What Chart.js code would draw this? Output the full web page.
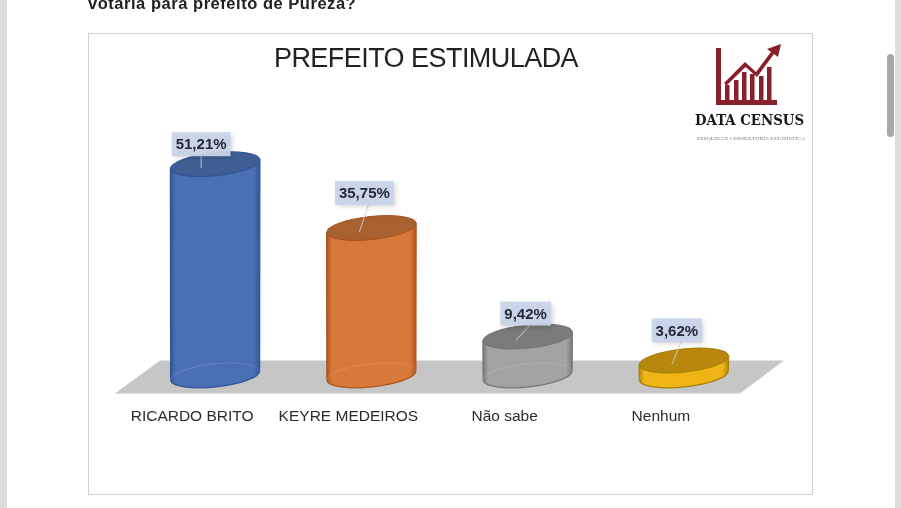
<!DOCTYPE html>
<html lang="pt">
<head>
<meta charset="utf-8">
<title>Prefeito estimulada</title>
<script src="https://cdn.jsdelivr.net/npm/chart.js@4"></script>
<style>
    html, body { margin: 0; padding: 0; background: #fff; overflow: hidden; }
    #page { position: relative; width: 901px; height: 508px; overflow: hidden; filter: blur(0.35px); }
    #chart { position: absolute; left: 0; top: 0; }
    .stripe { position: absolute; top: 0; width: 7px; height: 508px; background: #dcdcdc; }
    #scrollThumb { position: absolute; left: 887px; top: 54px; width: 7px; height: 83px; border-radius: 4px; background: #a8a8a8; }
    #question { position: absolute; left: 88px; top: -6px; font: bold 16.5px/18px "Liberation Sans", sans-serif; color: #222; letter-spacing: .53px; white-space: nowrap; }
    #frame { position: absolute; left: 88px; top: 33px; width: 723px; height: 460px; border: 1px solid #d2d2d2; }
    #logo { position: absolute; left: 680px; top: 30px; }
</style>
</head>
<body>
<div id="page">
    <div class="stripe" style="left:0"></div>
    <div class="stripe" style="left:895px;width:6px"></div>
    <div id="scrollThumb"></div>
    <div id="question">votaria para prefeito de Pureza?</div>
    <div id="frame"></div>
    <canvas id="chart" width="901" height="508"></canvas>
    <svg id="logo" width="135" height="120" viewBox="0 0 135 120">
        <g fill="#8a1f2c">
            <path d="M36 18h5v52h56v5H36z"/>
            <rect x="45" y="55" width="4.500" height="16"/>
            <rect x="54" y="50" width="4.500" height="21"/>
            <rect x="62" y="42" width="4.500" height="29"/>
            <rect x="70" y="44" width="4.500" height="27"/>
            <rect x="79" y="46" width="4.500" height="25"/>
            <rect x="87" y="37" width="4.500" height="34"/>
            <path d="M101 14l-14 5 4 3-15 20-11-10-21 21 2.500 2.500 19-18.500 11.500 10 17-23 4 3z"/>
        </g>
        <text x="15" y="95" font-family="DejaVu Serif, serif" font-weight="bold" font-size="14" fill="#17171a" textLength="109" lengthAdjust="spacingAndGlyphs">DATA CENSUS</text>
        <text x="17" y="109.500" font-family="Liberation Serif, serif" font-size="4.6" fill="#777" textLength="108" lengthAdjust="spacingAndGlyphs">PESQUISA E CONSULTORIA ESTATÍSTICA</text>
    </svg>
</div>

<script>
    // --------- Dados ---------
    const titulo = "PREFEITO ESTIMULADA";
    const candidatos = ["RICARDO BRITO", "KEYRE MEDEIROS", "Não sabe", "Nenhum"];
    const percentuais = [51.21, 35.75, 9.42, 3.62];

    // --------- Cores ---------
    const corpo = ["#4a6fb3", "#d8783a", "#a3a3a3", "#eeb415"];
    const tampa = ["#3f5f94", "#a9622f", "#7b7b7b", "#b8880e"];
    const borda = ["#2f5597", "#a9551f", "#757575", "#a87f08"];
    const offsetRotulo = [[-14, -20], [-7, -35], [-2, -23], [-7, -30]];

    const INCLINA = -6 * Math.PI / 180;
    const RY = 11.5;

    // cilindro desenhado a partir do elemento da barra
    function cilindro(ctx, bar, i) {
        const rx = bar.width / 2;
        const yo = rx * Math.sin(INCLINA);
        const rxx = rx * Math.cos(INCLINA);

        ctx.save();
        ctx.beginPath();
        ctx.ellipse(bar.x, bar.base, rxx, RY, INCLINA, 0, Math.PI);
        ctx.lineTo(bar.x - rxx, bar.y - yo);
        ctx.lineTo(bar.x + rxx, bar.y + yo);
        ctx.closePath();

        const g = ctx.createLinearGradient(bar.x - rx, 0, bar.x + rx, 0);
        g.addColorStop(0, borda[i]);
        g.addColorStop(0.06, corpo[i]);
        g.addColorStop(0.93, corpo[i]);
        g.addColorStop(1, borda[i]);
        ctx.fillStyle = g;
        ctx.fill();
        ctx.strokeStyle = borda[i];
        ctx.lineWidth = 1.2;
        ctx.stroke();

        // elipse de trás, quase invisível
        ctx.beginPath();
        ctx.ellipse(bar.x, bar.base, rxx, RY, INCLINA, Math.PI, 0);
        ctx.strokeStyle = "rgba(255,255,255,.12)";
        ctx.stroke();

        ctx.beginPath();
        ctx.ellipse(bar.x, bar.y, rxx, RY, INCLINA, 0, Math.PI * 2);
        ctx.fillStyle = tampa[i];
        ctx.fill();
        ctx.strokeStyle = borda[i];
        ctx.stroke();
        ctx.restore();
    }

    function rotulo(ctx, bar, i) {
        const txt = percentuais[i].toFixed(2).replace(".", ",") + "%";
        const cx = bar.x + offsetRotulo[i][0];
        const cy = bar.y + offsetRotulo[i][1];

        ctx.save();
        ctx.font = "bold 15px 'Liberation Sans', sans-serif";
        const w = ctx.measureText(txt).width + 8;
        const h = 24;

        ctx.strokeStyle = "rgba(205,205,205,.9)";
        ctx.lineWidth = 1;
        ctx.beginPath();
        ctx.moveTo(cx + (i === 0 ? 0 : 4), cy + h / 2);
        ctx.lineTo(bar.x - (i === 0 ? 14 : 12), bar.y + 4);
        ctx.stroke();

        ctx.shadowColor = "rgba(0,0,0,.18)";
        ctx.shadowBlur = 5;
        ctx.shadowOffsetX = 2;
        ctx.shadowOffsetY = 2;
        ctx.fillStyle = "rgba(200,211,233,.94)";
        ctx.fillRect(cx - w / 2, cy - h / 2, w, h);
        ctx.shadowColor = "transparent";

        ctx.fillStyle = "#262a36";
        ctx.textAlign = "center";
        ctx.textBaseline = "middle";
        ctx.fillText(txt, cx, cy + 1);
        ctx.restore();
    }

    const cena3d = {
        id: "cena3d",
        beforeDatasetsDraw(chart) {
            // piso cinza
            const { ctx, chartArea: a } = chart;
            const y0 = chart.scales.y.getPixelForValue(0);
            ctx.save();
            ctx.fillStyle = "#c6c6c6";
            ctx.beginPath();
            ctx.moveTo(a.left - 22, y0 + 18);
            ctx.lineTo(a.left + 23, y0 - 15);
            ctx.lineTo(a.right + 22, y0 - 15);
            ctx.lineTo(a.right - 22, y0 + 18);
            ctx.closePath();
            ctx.fill();
            ctx.restore();
        },
        beforeDatasetDraw() {
            return false; // a barra plana vira cilindro abaixo
        },
        afterDatasetsDraw(chart) {
            const { ctx } = chart;
            const bars = chart.getDatasetMeta(0).data;
            bars.forEach((bar, i) => cilindro(ctx, bar, i));
            bars.forEach((bar, i) => rotulo(ctx, bar, i));

            ctx.save();
            ctx.font = "27px 'Liberation Sans', sans-serif";
            ctx.letterSpacing = "-0.55px";
            ctx.fillStyle = "#222";
            ctx.textAlign = "center";
            ctx.textBaseline = "middle";
            ctx.fillText(titulo, 426, 60);
            ctx.restore();
        }
    };

    new Chart(document.getElementById("chart"), {
        type: "bar",
        data: {
            labels: candidatos,
            datasets: [{
                label: titulo,
                data: percentuais,
                backgroundColor: corpo,
                barThickness: 90
            }]
        },
        options: {
            responsive: false,
            animation: false,
            devicePixelRatio: 1,
            layout: { padding: { left: 137, right: 139, top: 128, bottom: 50 } },
            plugins: { legend: { display: false }, tooltip: { enabled: false } },
            scales: {
                y: { display: false, min: 0, max: 60 },
                x: {
                    grid: { display: false, drawTicks: false },
                    border: { display: false },
                    ticks: {
                        padding: 32,
                        labelOffset: -23,
                        maxRotation: 0,
                        color: "#2b2b2b",
                        font: { family: "'Liberation Sans', sans-serif", size: 15.5 }
                    }
                }
            }
        },
        plugins: [cena3d]
    });
</script>
</body>
</html>
